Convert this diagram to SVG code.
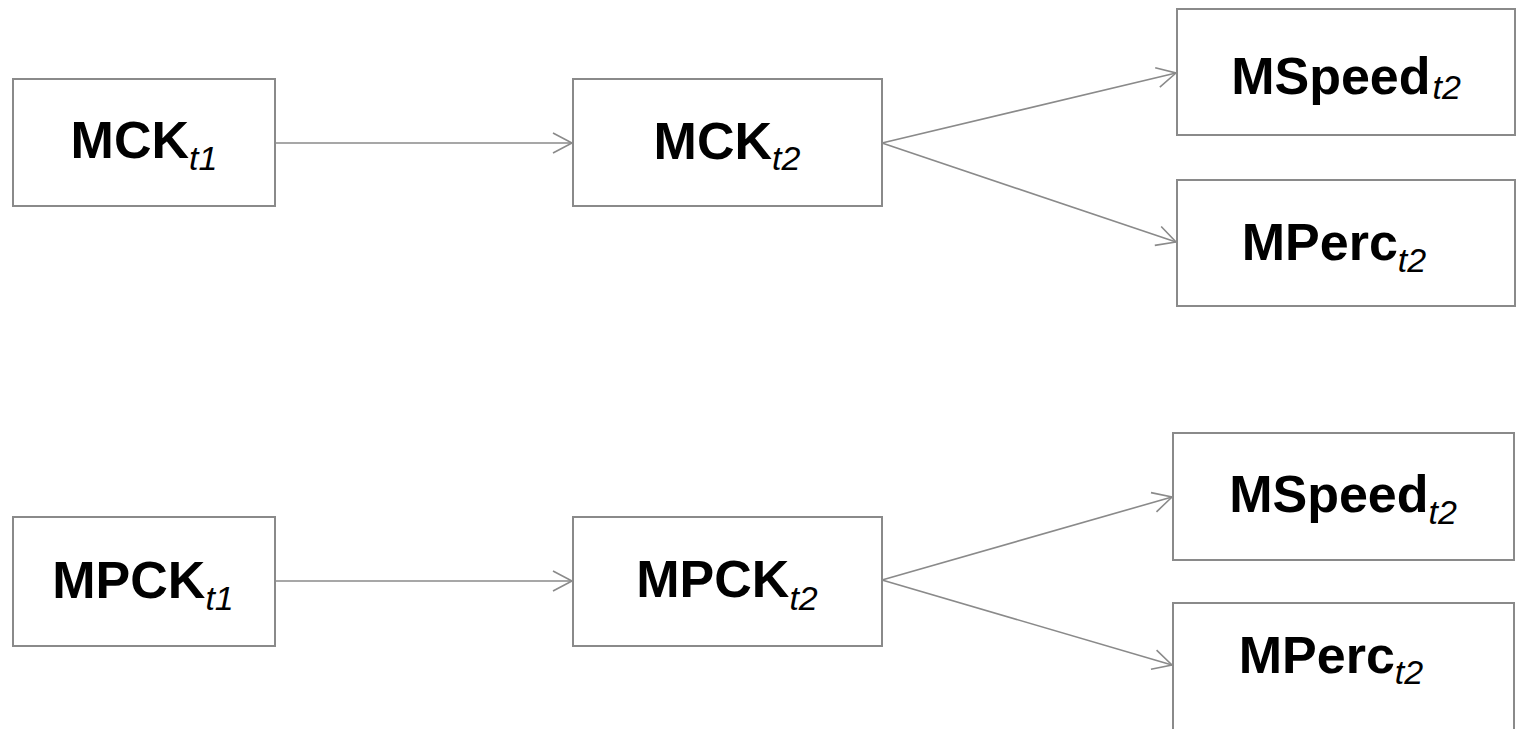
<svg xmlns="http://www.w3.org/2000/svg" width="1516" height="729" viewBox="0 0 1516 729">
<style>
.box{fill:#ffffff;stroke:#8a8a8a;stroke-width:2}
.lbl{font-family:"Liberation Sans",Arial,sans-serif;font-weight:bold;font-size:52px;fill:#000;text-anchor:middle}
.sub{font-weight:normal;font-style:italic;font-size:34px}
.edge{fill:none;stroke:#8a8a8a;stroke-width:1.6}
</style>
<defs>
<marker id="arr" markerWidth="22" markerHeight="24" refX="20" refY="11" orient="auto" markerUnits="userSpaceOnUse">
<path d="M1,1 L20,11 L1,21" fill="none" stroke="#8a8a8a" stroke-width="1.6"/>
</marker>
</defs>
<rect width="1516" height="729" fill="#ffffff"/>
<g id="connectors">
<line class="edge" x1="275" y1="143" x2="572" y2="143" marker-end="url(#arr)"/>
<line class="edge" x1="882" y1="143" x2="1176" y2="73" marker-end="url(#arr)"/>
<line class="edge" x1="882" y1="143" x2="1176" y2="242" marker-end="url(#arr)"/>
<line class="edge" x1="275" y1="581" x2="572" y2="581" marker-end="url(#arr)"/>
<line class="edge" x1="882" y1="580" x2="1172" y2="497" marker-end="url(#arr)"/>
<line class="edge" x1="882" y1="580" x2="1172" y2="665" marker-end="url(#arr)"/>
</g>
<g id="mck_t1">
<rect class="box" x="13" y="79" width="262" height="127"/>
<text class="lbl" x="144" y="158">MCK<tspan class="sub" dy="12">t1</tspan></text>
</g>
<g id="mck_t2">
<rect class="box" x="573" y="79" width="309" height="127"/>
<text class="lbl" x="727" y="159">MCK<tspan class="sub" dy="11">t2</tspan></text>
</g>
<g id="mspeed_top">
<rect class="box" x="1177" y="9" width="338" height="126"/>
<text class="lbl" x="1346" y="94">MSpeed<tspan class="sub" dx="2" dy="5">t2</tspan></text>
</g>
<g id="mperc_top">
<rect class="box" x="1177" y="180" width="338" height="126"/>
<text class="lbl" x="1334" y="260">MPerc<tspan class="sub" dy="12">t2</tspan></text>
</g>
<g id="mpck_t1">
<rect class="box" x="13" y="517" width="262" height="129"/>
<text class="lbl" x="143" y="598">MPCK<tspan class="sub" dy="12">t1</tspan></text>
</g>
<g id="mpck_t2">
<rect class="box" x="573" y="517" width="309" height="129"/>
<text class="lbl" x="727" y="597">MPCK<tspan class="sub" dy="13">t2</tspan></text>
</g>
<g id="mspeed_bottom">
<rect class="box" x="1173" y="433" width="341" height="127"/>
<text class="lbl" x="1343" y="512">MSpeed<tspan class="sub" dy="12">t2</tspan></text>
</g>
<g id="mperc_bottom">
<rect class="box" x="1173" y="603" width="341" height="140"/>
<text class="lbl" x="1331" y="673">MPerc<tspan class="sub" dy="11">t2</tspan></text>
</g>
</svg>
